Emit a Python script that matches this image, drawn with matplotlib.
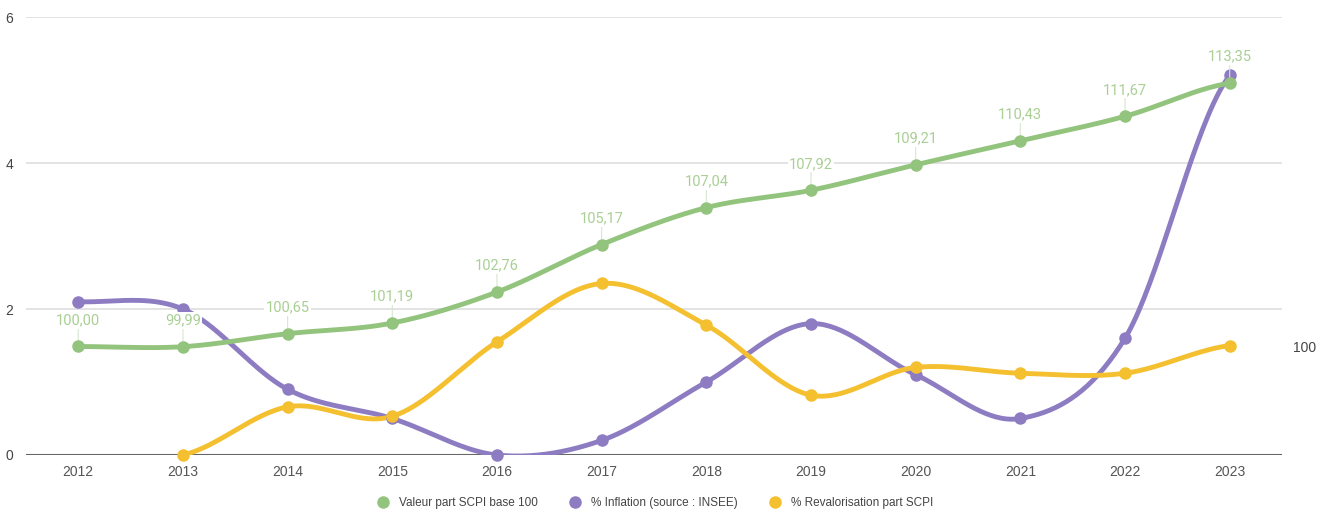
import numpy as np
import matplotlib
matplotlib.use("Agg")
import matplotlib.pyplot as plt
from matplotlib.lines import Line2D

years = ["2012", "2013", "2014", "2015", "2016", "2017", "2018", "2019", "2020", "2021", "2022", "2023"]
valeur_scpi = [100.00, 99.99, 100.65, 101.19, 102.76, 105.17, 107.04, 107.92, 109.21, 110.43, 111.67, 113.35]
inflation = [2.1, 2.0, 0.9, 0.5, 0.0, 0.2, 1.0, 1.8, 1.1, 0.5, 1.6, 5.2]
revalorisation = [None, 0.0, 0.66, 0.53, 1.55, 2.35, 1.78, 0.82, 1.2, 1.12, 1.12, 1.5]

GREEN = "#93c47d"
PURPLE = "#8e7cc3"
YELLOW = "#f4c030"
LABEL_GREEN = "#a9cf94"


def smooth(xs, ys, n=40):
    """Cardinal (Catmull-Rom style) curve through the points."""
    xs = np.asarray(xs, float)
    ys = np.asarray(ys, float)
    m = len(xs)
    tang = np.zeros(m)
    for i in range(m):
        if i == 0:
            tang[i] = (ys[1] - ys[0]) * 0.5
        elif i == m - 1:
            tang[i] = (ys[-1] - ys[-2]) * 0.5
        else:
            tang[i] = (ys[i + 1] - ys[i - 1]) / 2.0
    ox, oy = [], []
    t = np.linspace(0, 1, n)
    h00 = 2 * t**3 - 3 * t**2 + 1
    h10 = t**3 - 2 * t**2 + t
    h01 = -2 * t**3 + 3 * t**2
    h11 = t**3 - t**2
    for i in range(m - 1):
        dx = xs[i + 1] - xs[i]
        ox.extend(xs[i] + t * dx)
        oy.extend(h00 * ys[i] + h10 * tang[i] + h01 * ys[i + 1] + h11 * tang[i + 1])
    return np.array(ox), np.array(oy)


fig = plt.figure(figsize=(13.31, 5.14), dpi=100)
ax = fig.add_axes([0.0195, 0.1148, 0.9437, 0.852])
ax2 = ax.twinx()

x = np.arange(len(years))

ax.set_xlim(-0.5, len(years) - 0.5)
ax.set_ylim(0, 6)
ax2.set_ylim(94.5, 116.7)

# grid
for gy in [2, 4, 6]:
    ax.axhline(gy, color="#e0e0e0", lw=1.3, zorder=0)
ax.axhline(0, color="#666666", lw=1.5, zorder=1)

lw = 3.5
ms = 8

# inflation
sx, sy = smooth(x, inflation)
ax.plot(sx, sy, color=PURPLE, lw=lw, solid_capstyle="round", zorder=3, clip_on=True)
ax.plot(x, inflation, "o", color=PURPLE, ms=ms, zorder=4, clip_on=False)

# revalorisation
rx = [xi for xi, v in zip(x, revalorisation) if v is not None]
ry = [v for v in revalorisation if v is not None]
sx, sy = smooth(rx, ry)
ax.plot(sx, sy, color=YELLOW, lw=lw, solid_capstyle="round", zorder=3)
ax.plot(rx, ry, "o", color=YELLOW, ms=ms, zorder=4, clip_on=False)

# valeur part SCPI on the right scale
sx, sy = smooth(x, valeur_scpi)
ax2.plot(sx, sy, color=GREEN, lw=lw, solid_capstyle="round", zorder=3)
ax2.plot(x, valeur_scpi, "o", color=GREEN, ms=ms, zorder=4, clip_on=False)
for xi, v in zip(x, valeur_scpi):
    label = f"{v:.2f}".replace(".", ",")
    ax2.annotate("", xy=(xi, v), xytext=(0, 15), textcoords="offset points",
                 arrowprops=dict(arrowstyle="-", color="#d8e6d0", lw=0.8,
                                 shrinkA=0, shrinkB=4),
                 zorder=2)
    ax2.annotate(label, xy=(xi, v), xytext=(0, 19), textcoords="offset points",
                 ha="center", va="center", fontsize=10.5, color=LABEL_GREEN,
                 family="Roboto",
                 bbox=dict(boxstyle="square,pad=0.1", fc="white", ec="none"),
                 zorder=5)

ax2.set_zorder(ax.get_zorder() + 1)
ax2.patch.set_visible(False)

for a in (ax, ax2):
    for s in a.spines.values():
        s.set_visible(False)

ax.set_xticks(x)
ax.set_xticklabels(years, family="Liberation Sans", fontsize=10, color="#555555")
ax.set_yticks([0, 2, 4, 6])
ax.set_yticklabels(["0", "2", "4", "6"], family="Liberation Sans", fontsize=10, color="#444444")
ax.tick_params(axis="both", length=0, pad=7)
ax.tick_params(axis="y", pad=9)

ax2.set_yticks([100])
ax2.set_yticklabels(["100"], family="Liberation Sans", fontsize=10, color="#444444")
ax2.tick_params(axis="y", length=0, pad=8)

handles = [
    Line2D([], [], ls="none", marker="o", ms=8, color=GREEN, label="Valeur part SCPI base 100"),
    Line2D([], [], ls="none", marker="o", ms=8, color=PURPLE, label="% Inflation (source : INSEE)"),
    Line2D([], [], ls="none", marker="o", ms=8, color=YELLOW, label="% Revalorisation part SCPI"),
]
fig.legend(handles=handles, loc="center", bbox_to_anchor=(0.49, 0.022), ncol=3,
           frameon=False, prop={"family": "Liberation Sans", "size": 8.5},
           handletextpad=0.3, columnspacing=2.2, labelcolor="#444444")

fig.savefig("out.png", dpi=100, facecolor="white")
